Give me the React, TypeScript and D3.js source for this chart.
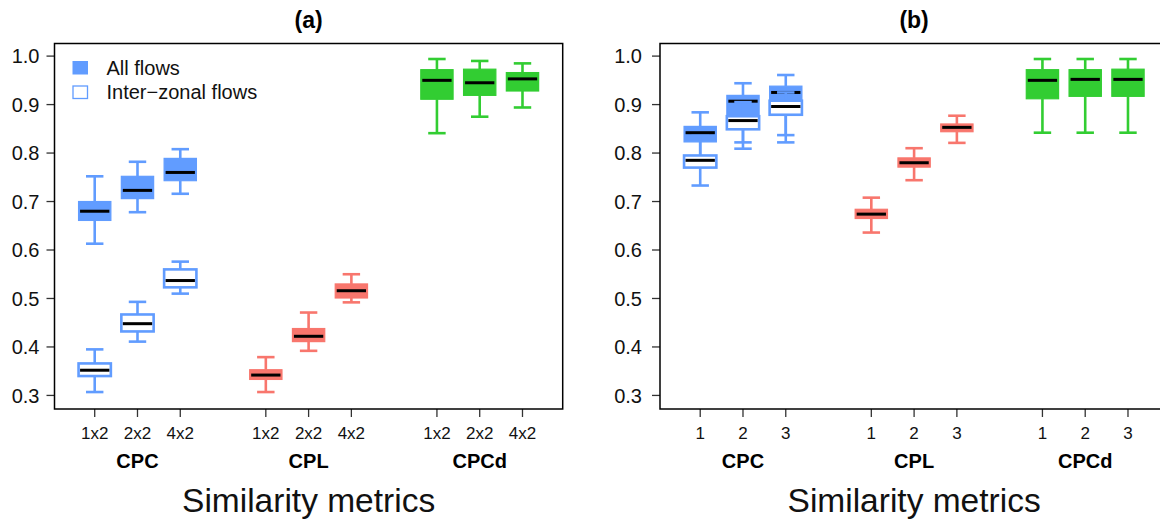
import React from "react";
import * as d3 from "d3";

// ---------- data ----------
const groups = ["CPC", "CPL", "CPCd"];
const tickLabelsA = ["1x2", "2x2", "4x2"];
const tickLabelsB = ["1", "2", "3"];
const yTicks = [0.3, 0.4, 0.5, 0.6, 0.7, 0.8, 0.9, 1.0];
const legendLabels = ["All flows", "Inter\u2212zonal flows"];

// each box: [whiskerLow, q1, median, q3, whiskerHigh]
const cpcAllA = [
  [0.613, 0.661, 0.68, 0.7, 0.752],
  [0.678, 0.706, 0.723, 0.752, 0.782],
  [0.716, 0.743, 0.76, 0.789, 0.808],
];
const cpcInterA = [
  [0.307, 0.34, 0.352, 0.366, 0.395],
  [0.411, 0.432, 0.448, 0.467, 0.493],
  [0.51, 0.523, 0.537, 0.56, 0.576],
];
const cplA = [
  [0.307, 0.333, 0.342, 0.353, 0.379],
  [0.392, 0.411, 0.422, 0.438, 0.471],
  [0.492, 0.501, 0.516, 0.53, 0.55],
];
const cpcdA = [
  [0.841, 0.911, 0.95, 0.972, 0.994],
  [0.875, 0.919, 0.945, 0.973, 0.99],
  [0.894, 0.928, 0.953, 0.966, 0.985],
];

const cpcAllB = [
  [0.78, 0.823, 0.842, 0.855, 0.884],
  [0.822, 0.87, 0.907, 0.919, 0.944],
  [0.837, 0.9, 0.925, 0.938, 0.961],
];
const cpcInterB = [
  [0.733, 0.77, 0.785, 0.795, 0.835],
  [0.809, 0.849, 0.867, 0.876, 0.905],
  [0.822, 0.879, 0.896, 0.908, 0.925],
];
const cplB = [
  [0.636, 0.665, 0.674, 0.684, 0.708],
  [0.744, 0.771, 0.78, 0.79, 0.81],
  [0.821, 0.844, 0.853, 0.86, 0.877],
];
const cpcdB = [
  [0.842, 0.912, 0.95, 0.972, 0.994],
  [0.842, 0.917, 0.952, 0.972, 0.994],
  [0.842, 0.917, 0.952, 0.973, 0.994],
];

const BLUE = "#619CFF";
const RED = "#F8766D";
const GREEN = "#32CD32";
const FONT = "'Liberation Sans', Arial, Helvetica, sans-serif";

const W = 1160;
const H = 521;
const TOP = 43.5;
const BOTTOM = 409;

type Stat = number[];

function Box({ s, x, y, color, filled, bw }: { s: Stat; x: number; y: d3.ScaleLinear<number, number>; color: string; filled: boolean; bw: number }) {
  const [lo, q1, med, q3, hi] = s;
  const half = bw / 2;
  const cap = bw * 0.27;
  return (
    <g>
      <line x1={x} x2={x} y1={y(hi)} y2={y(q3)} stroke={color} strokeWidth={2.6} />
      <line x1={x} x2={x} y1={y(q1)} y2={y(lo)} stroke={color} strokeWidth={2.6} />
      <line x1={x - cap} x2={x + cap} y1={y(hi)} y2={y(hi)} stroke={color} strokeWidth={2.6} />
      <line x1={x - cap} x2={x + cap} y1={y(lo)} y2={y(lo)} stroke={color} strokeWidth={2.6} />
      <rect
        x={x - half}
        y={y(q3)}
        width={bw}
        height={y(q1) - y(q3)}
        fill={filled ? color : "#fff"}
        stroke={color}
        strokeWidth={filled ? 1.2 : 2.6}
      />
      <line x1={x - half + 1.5} x2={x + half - 1.5} y1={y(med)} y2={y(med)} stroke="#000" strokeWidth={3} />
    </g>
  );
}

function Panel({
  left,
  title,
  tickLabels,
  cpcAll,
  cpcInter,
  cpl,
  cpcd,
  legend,
  labelGap,
}: {
  left: number;
  title: string;
  tickLabels: string[];
  cpcAll: Stat[];
  cpcInter: Stat[];
  cpl: Stat[];
  cpcd: Stat[];
  legend: boolean;
  labelGap: number;
}) {
  const right = left + 508.2;
  const x = d3.scaleLinear().domain([0.06, 11.94]).range([left, right]);
  const y = d3.scaleLinear().domain([0.272, 1.026]).range([BOTTOM, TOP]);
  const unit = x(1) - x(0);
  const bw = unit * 0.755;
  const positions = [1, 2, 3, 5, 6, 7, 9, 10, 11];
  const cx = (left + right) / 2;
  return (
    <g>
      <text x={cx} y={28} textAnchor="middle" fontFamily={FONT} fontWeight="bold" fontSize={23}>
        {title}
      </text>
      {/* y axis ticks */}
      {yTicks.map((t) => (
        <g key={t}>
          <line x1={left - 8} x2={left} y1={y(t)} y2={y(t)} stroke="#333" strokeWidth={1.3} />
          <text x={left - labelGap} y={y(t)} dy="0.36em" textAnchor="end" fontFamily={FONT} fontSize={20} fill="#111">
            {d3.format(".1f")(t)}
          </text>
        </g>
      ))}
      {/* x axis ticks */}
      {positions.map((p, i) => (
        <g key={p}>
          <line x1={x(p)} x2={x(p)} y1={BOTTOM} y2={BOTTOM + 8} stroke="#333" strokeWidth={1.3} />
          <text x={x(p)} y={439} textAnchor="middle" fontFamily={FONT} fontSize={17} fill="#111">
            {tickLabels[i % 3]}
          </text>
        </g>
      ))}
      {groups.map((g, i) => (
        <text key={g} x={x(positions[i * 3 + 1])} y={468} textAnchor="middle" fontFamily={FONT} fontWeight="bold" fontSize={20}>
          {g}
        </text>
      ))}
      <text x={cx} y={512} textAnchor="middle" fontFamily={FONT} fontSize={33.5} fill="#111">
        Similarity metrics
      </text>
      {/* boxes */}
      {cpcAll.map((s, i) => (
        <Box key={"a" + i} s={s} x={x(positions[i])} y={y} color={BLUE} filled={true} bw={bw} />
      ))}
      {cpcInter.map((s, i) => (
        <Box key={"b" + i} s={s} x={x(positions[i])} y={y} color={BLUE} filled={false} bw={bw} />
      ))}
      {cpl.map((s, i) => (
        <Box key={"c" + i} s={s} x={x(positions[3 + i])} y={y} color={RED} filled={true} bw={bw} />
      ))}
      {cpcd.map((s, i) => (
        <Box key={"d" + i} s={s} x={x(positions[6 + i])} y={y} color={GREEN} filled={true} bw={bw} />
      ))}
      {/* frame */}
      <rect x={left} y={TOP} width={right - left} height={BOTTOM - TOP} fill="none" stroke="#000" strokeWidth={1.5} />
      {legend && (
        <g>
          <rect x={72.5} y={61} width={15.5} height={13.5} fill={BLUE} />
          <rect x={73} y={86} width={14.5} height={12.5} fill="#fff" stroke={BLUE} strokeWidth={1.3} />
          <text x={106.5} y={74.5} fontFamily={FONT} fontSize={20} fill="#111">
            {legendLabels[0]}
          </text>
          <text x={106.5} y={99} fontFamily={FONT} fontSize={20} fill="#111">
            {legendLabels[1]}
          </text>
        </g>
      )}
    </g>
  );
}

export default function App() {
  return (
    <svg
      width={W}
      height={H}
      viewBox={`0 0 ${W} ${H}`}
      style={{ position: "absolute", left: 0, top: 0, background: "#fff" }}
    >
      <rect x={0} y={0} width={W} height={H} fill="#fff" />
      <Panel left={54.5} title="(a)" tickLabels={tickLabelsA} cpcAll={cpcAllA} cpcInter={cpcInterA} cpl={cplA} cpcd={cpcdA} legend={true} labelGap={15} />
      <Panel left={660} title="(b)" tickLabels={tickLabelsB} cpcAll={cpcAllB} cpcInter={cpcInterB} cpl={cplB} cpcd={cpcdB} legend={false} labelGap={18} />
    </svg>
  );
}
